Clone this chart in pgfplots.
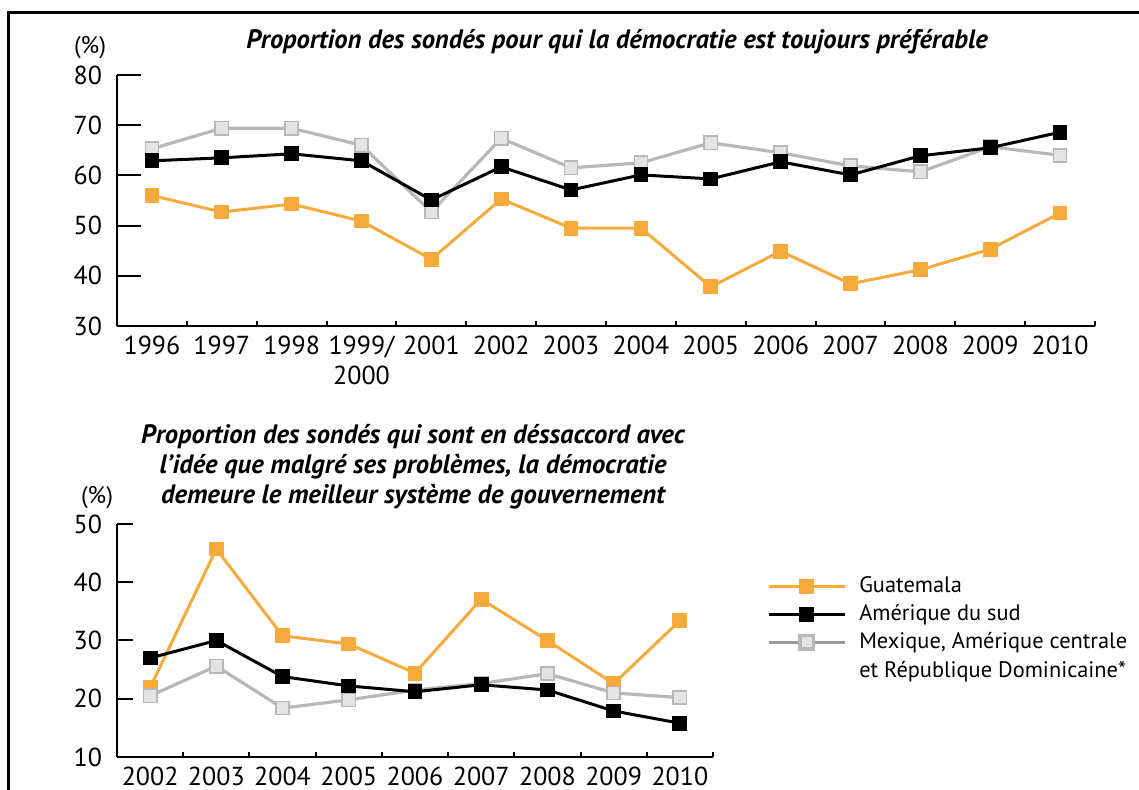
\documentclass[border=0pt]{standalone}
\usepackage{fontspec}
\setmainfont{PT Sans}
\usepackage{pgfplots}
\pgfplotsset{compat=1.18}

\definecolor{guat}{HTML}{F5AA3B}
\definecolor{mexl}{HTML}{B8B8B8}
\definecolor{mexf}{HTML}{E4E4E4}
\definecolor{mexleg}{HTML}{9A9A9A}

\pgfplotsset{
  chart/.style={
    scale only axis,
    anchor=south west,
    axis x line=bottom, axis y line=left,
    axis line style={-, line width=1pt},
    every tick/.style={black, line width=1pt},
    tick align=inside,
    major tick length=12pt,
    minor tick length=2.5pt,
    major x tick style={draw=none},
    xmin=-0.5,
    ticklabel style={font=\fontsize{13}{15}\selectfont},
    /pgf/number format/assume math mode=true,
    yticklabel style={xshift=-4pt},
    xticklabel style={yshift=-1.5pt},
    clip=false,
  },
  guat/.style={color=guat, line width=1.5pt, mark=square*, mark size=3.3pt,
    mark options={solid, fill=guat, draw=guat, line width=0.8pt}},
  sud/.style={color=black, line width=1.5pt, mark=square*, mark size=3.3pt,
    mark options={solid, fill=black, line width=0.8pt}},
  mex/.style={color=mexl, line width=1.6pt, mark=square*, mark size=3.3pt,
    mark options={solid, fill=mexf, draw=mexl, line width=0.8pt}},
}

\begin{document}
\begin{tikzpicture}
\useasboundingbox (0,0) rectangle (569.5pt,395pt);
\draw[line width=1.5pt] (4pt,0) -- (4pt,388.5pt) -- (569.5pt,388.5pt);

% graphique du haut
\begin{axis}[chart,
    at={(58.5pt,232pt)},
    width=489pt, height=125.5pt,
    xmax=13.5, ymin=30, ymax=80,
    ytick={30,40,...,80},
    xtick={0,...,13},
    minor xtick={0.5,1.5,...,13.5},
    xticklabels={1996,1997,1998,{1999/\\2000},2001,2002,2003,2004,2005,2006,2007,2008,2009,2010},
    xticklabel style={align=center},
  ]
  \addplot[guat] coordinates {
    (0,56.0) (1,52.7) (2,54.3) (3,50.9) (4,43.3) (5,55.3) (6,49.5)
    (7,49.5) (8,37.8) (9,44.9) (10,38.4) (11,41.2) (12,45.3) (13,52.5)};
  \addplot[mex] coordinates {
    (0,65.3) (1,69.4) (2,69.4) (3,66.0) (4,52.7) (5,67.4) (6,61.5)
    (7,62.5) (8,66.5) (9,64.5) (10,61.9) (11,60.7) (12,65.7) (13,64.0)};
  \addplot[sud] coordinates {
    (0,62.9) (1,63.5) (2,64.3) (3,62.9) (4,55.1) (5,61.7) (6,57.1)
    (7,60.1) (8,59.3) (9,62.7) (10,60.1) (11,63.9) (12,65.5) (13,68.6)};
\end{axis}

% graphique du bas
\begin{axis}[chart,
    at={(58.5pt,16.5pt)},
    width=298pt, height=116.5pt,
    xmax=8.5, ymin=10, ymax=50,
    major tick length=8pt,
    ytick={10,20,...,50},
    xtick={0,...,8},
    minor xtick={0.5,1.5,...,8.5},
    xticklabels={2002,2003,2004,2005,2006,2007,2008,2009,2010},
    legend style={draw=none, fill=none, at={(1.08,0.81)}, anchor=north west,
      font=\fontsize{11.2}{13}\selectfont, row sep=0.5pt, column sep=4.5pt},
    legend cell align=left,
    legend image code/.code={
      \draw[mark repeat=2,mark phase=2,#1] plot coordinates {(0pt,0pt) (19pt,0pt) (38pt,0pt)};},
  ]
  \addplot[guat, forget plot] coordinates {
    (0,21.9) (1,45.7) (2,30.8) (3,29.4) (4,24.4) (5,37.1) (6,30.0) (7,22.6) (8,33.4)};
  \addplot[mex, forget plot] coordinates {
    (0,20.5) (1,25.6) (2,18.4) (3,19.8) (4,21.5) (5,22.6) (6,24.3) (7,21.0) (8,20.2)};
  \addplot[sud, forget plot] coordinates {
    (0,27.0) (1,30.0) (2,23.8) (3,22.2) (4,21.2) (5,22.4) (6,21.5) (7,17.9) (8,15.8)};
  \addlegendimage{guat}
  \addlegendentry{Guatemala}
  \addlegendimage{sud}
  \addlegendentry{Amérique du sud}
  \addlegendimage{mex, color=mexleg, mark options={fill=mexf, draw=mexl}}
  \addlegendentry{Mexique, Amérique centrale}
  \addlegendimage{empty legend}
  \addlegendentry{et République Dominicaine*}
\end{axis}

\node[font=\fontsize{12}{14}\selectfont] at (45pt,371pt) {(\%)};
\node[font=\fontsize{12}{14}\selectfont] at (48.5pt,146pt) {(\%)};
\node[font=\fontsize{13.3}{15}\selectfont\bfseries\itshape] at (308.5pt,374pt)
  {Proportion des sondés pour qui la démocratie est toujours préférable};
\node[font=\fontsize{13.3}{15}\selectfont\bfseries\itshape, align=center] at (206.5pt,161.5pt)
  {Proportion des sondés qui sont en déssaccord avec\\
   l’idée que malgré ses problèmes, la démocratie\\
   demeure le meilleur système de gouvernement};
\end{tikzpicture}
\end{document}
